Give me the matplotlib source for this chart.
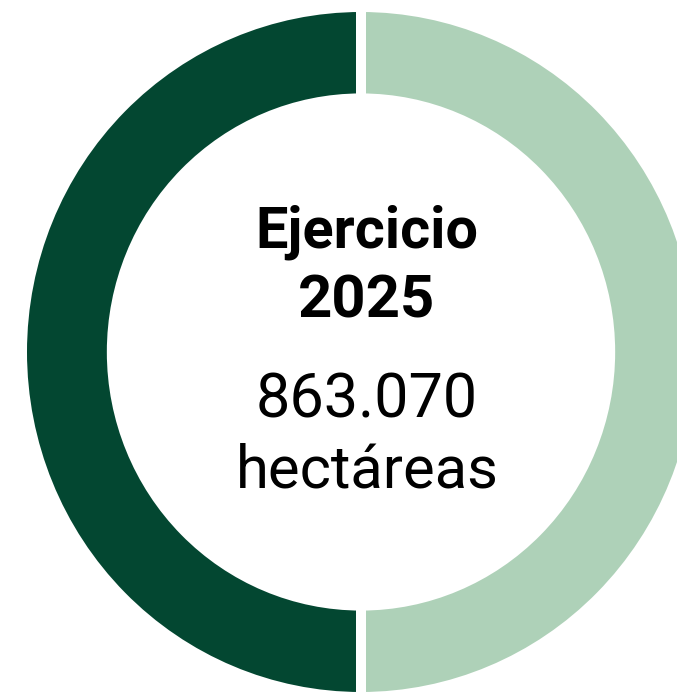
import matplotlib.pyplot as plt

labels = ["Right", "Left"]
values = [50, 50]
colors = ["#AED1B8", "#034731"]
title_lines = ["Ejercicio", "2025"]
amount = "863.070"
unit = "hectáreas"

W, H = 677, 693
cx, cy = 361, 352          # centre of the ring, pixels from top-left
sx, sy = 339, 345          # pixels per data unit (slightly stretched vertically)

fig = plt.figure(figsize=(W / 100, H / 100), dpi=100)
ax = fig.add_axes([0, 0, 1, 1])

ax.pie(values, colors=colors, startangle=90, counterclock=False,
       wedgeprops=dict(width=0.265, edgecolor="white", linewidth=7.2))

ax.set_aspect("auto")
ax.set_xlim(-cx / sx, (W - cx) / sx)
ax.set_ylim(-(H - cy) / sy, cy / sy)
ax.axis("off")


def px(x, y):
    return (x - cx) / sx, (cy - y) / sy


tx = 367
ax.text(*px(tx, 247), title_lines[0], ha="center", va="baseline",
        fontsize=41.5, fontweight="bold", family="Roboto", color="black")
ax.text(*px(tx, 317), title_lines[1], ha="center", va="baseline",
        fontsize=43, fontweight="bold", family="Roboto", color="black")
ax.text(*px(tx, 418), amount, ha="center", va="baseline",
        fontsize=44, family="Roboto", color="black")
ax.text(*px(tx, 487), unit, ha="center", va="baseline",
        fontsize=43, family="Roboto", color="black")

fig.savefig("out.png", dpi=100)
